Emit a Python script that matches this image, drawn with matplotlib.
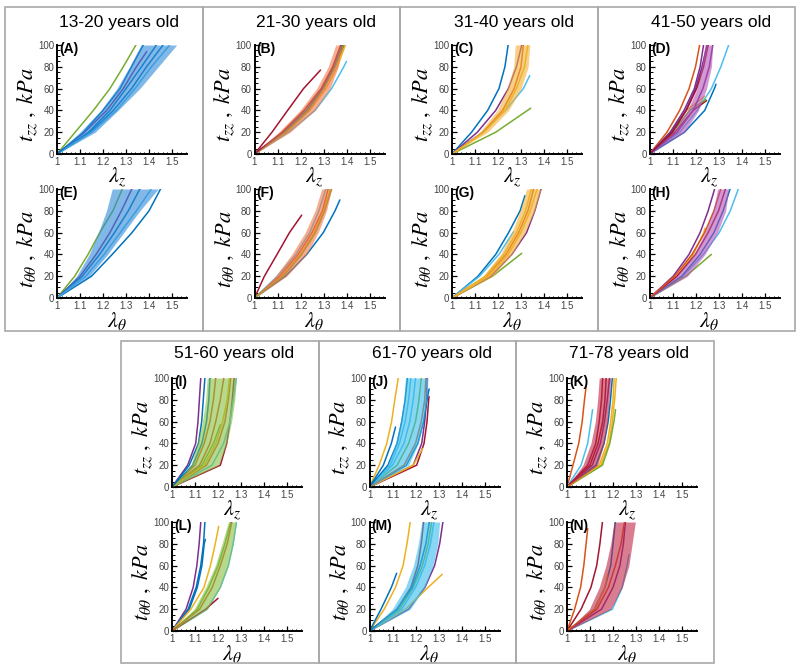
import matplotlib
matplotlib.use("Agg")
import matplotlib.pyplot as plt
from matplotlib.patches import Rectangle
from matplotlib.ticker import MultipleLocator

plt.rcParams["font.family"] = ["Liberation Sans", "DejaVu Sans"]
plt.rcParams["mathtext.fontset"] = "stix"

W_PX, H_PX = 800, 670

BLUE = "#0072BD"
ORANGE = "#D95319"
YELLOW = "#EDB120"
PURPLE = "#7E2F8E"
GREEN = "#77AC30"
CYAN = "#4DBEEE"
CRIMSON = "#A2142F"

# stress levels (kPa) at which the stretch values below were read
CURVE_T = [0, 20, 40, 60, 80, 100]

TOP_AGES = ["13-20 years old", "21-30 years old", "31-40 years old", "41-50 years old"]
BOTTOM_AGES = ["51-60 years old", "61-70 years old", "71-78 years old"]

# ---- 13-20 ----
A_BAND_LO = [1, 1.10, 1.19, 1.26, 1.315, 1.365]
A_BAND_HI = [1, 1.166, 1.265, 1.36, 1.44, 1.52]
A_CURVES = [
    (GREEN, [1, 1.079, 1.158, 1.23, 1.288, 1.343]),
    (PURPLE, [1, 1.12, 1.216, 1.288, 1.345, 1.39], 94),
    (BLUE, [1, 1.137, 1.23, 1.30, 1.367, 1.432]),
    (BLUE, [1, 1.144, 1.245, 1.324, 1.389, 1.461]),
    (CYAN, [1, 1.151, 1.259, 1.339, 1.41, 1.49]),
    (BLUE, [1, 1.115, 1.20, 1.274, 1.324, 1.375]),
]
E_BAND_LO = [1, 1.085, 1.14, 1.18, 1.215, 1.24]
E_BAND_HI = [1, 1.14, 1.22, 1.29, 1.36, 1.44]
E_CURVES = [
    (GREEN, [1, 1.077, 1.135, 1.186, 1.243, 1.284]),
    (BLUE, [1, 1.15, 1.24, 1.326, 1.40, 1.45]),
    (PURPLE, [1, 1.10, 1.17, 1.23, 1.28, 1.325]),
    (BLUE, [1, 1.11, 1.185, 1.25, 1.31, 1.36]),
    (CYAN, [1, 1.125, 1.205, 1.275, 1.345, 1.41]),
]

# ---- 21-30 ----
B_BAND_LO = [1, 1.105, 1.198, 1.27, 1.32, 1.353]
B_BAND_HI = [1, 1.155, 1.263, 1.328, 1.364, 1.378]
B_CURVES = [
    (CRIMSON, [1, 1.076, 1.144, 1.213, 1.287], 77),
    (CYAN, [1, 1.148, 1.263, 1.335, 1.388, 1.40], 85),
    (ORANGE, [1, 1.13, 1.23, 1.30, 1.35, 1.39]),
    (YELLOW, [1, 1.14, 1.24, 1.31, 1.36, 1.395]),
    (GREEN, [1, 1.135, 1.235, 1.30, 1.35, 1.385]),
    (BLUE, [1, 1.125, 1.225, 1.295, 1.345, 1.38]),
    (CRIMSON, [1, 1.12, 1.215, 1.29, 1.34, 1.375]),
]
F_BAND_LO = [1, 1.09, 1.162, 1.22, 1.263, 1.292]
F_BAND_HI = [1, 1.14, 1.227, 1.277, 1.313, 1.335]
F_CURVES = [
    (CRIMSON, [1, 1.043, 1.098, 1.152, 1.205], 76),
    (BLUE, [1, 1.134, 1.227, 1.299, 1.35, 1.371], 90),
    (CYAN, [1, 1.10, 1.18, 1.24, 1.28, 1.31]),
    (ORANGE, [1, 1.11, 1.19, 1.25, 1.295, 1.32]),
    (YELLOW, [1, 1.12, 1.20, 1.26, 1.30, 1.33]),
    (GREEN, [1, 1.125, 1.205, 1.265, 1.305, 1.335]),
]

# ---- 31-40 ----
C_BAND_LO = [1, 1.12, 1.197, 1.24, 1.268, 1.275]
C_BAND_HI = [1, 1.155, 1.246, 1.30, 1.331, 1.338]
C_CURVES = [
    (BLUE, [1, 1.085, 1.155, 1.204, 1.23, 1.244]),
    (PURPLE, [1, 1.11, 1.19, 1.245, 1.28, 1.303]),
    (CYAN, [1, 1.134, 1.232, 1.31, 1.338], 72),
    (GREEN, [1, 1.19, 1.342], 42),
    (ORANGE, [1, 1.135, 1.22, 1.27, 1.30, 1.31]),
    (YELLOW, [1, 1.14, 1.23, 1.28, 1.315, 1.33]),
]
G_BAND_LO = [1, 1.134, 1.211, 1.26, 1.296, 1.324]
G_BAND_HI = [1, 1.176, 1.26, 1.317, 1.359, 1.387]
G_CURVES = [
    (BLUE, [1, 1.113, 1.19, 1.246, 1.296, 1.317], 94),
    (CYAN, [1, 1.12, 1.204, 1.268], 61),
    (GREEN, [1, 1.176, 1.303], 41),
    (PURPLE, [1, 1.169, 1.26, 1.324, 1.36, 1.387]),
    (ORANGE, [1, 1.15, 1.235, 1.29, 1.33, 1.355]),
    (YELLOW, [1, 1.145, 1.225, 1.28, 1.32, 1.345]),
    (YELLOW, [1, 1.16, 1.245, 1.30, 1.34, 1.37]),
]

# ---- 41-50 ----
D_BAND_LO = [1, 1.103, 1.165, 1.207, 1.227, 1.241]
D_BAND_HI = [1, 1.152, 1.213, 1.248, 1.269, 1.275]
D_CURVES = [
    (ORANGE, [1, 1.076, 1.131, 1.172, 1.20, 1.218]),
    (CYAN, [1, 1.131, 1.207, 1.269, 1.31, 1.344]),
    (BLUE, [1, 1.152, 1.24, 1.282, 1.289], 64),
    (CRIMSON, [1, 1.11, 1.19, 1.248], 49),
    (YELLOW, [1, 1.09, 1.16, 1.24], 53),
    (GREEN, [1, 1.10, 1.175, 1.245], 50),
    (PURPLE, [1, 1.09, 1.15, 1.195, 1.22, 1.235]),
    (PURPLE, [1, 1.095, 1.158, 1.20, 1.228, 1.25]),
    (PURPLE, [1, 1.12, 1.19, 1.232, 1.26, 1.275]),
    (CRIMSON, [1, 1.10, 1.16, 1.205, 1.235, 1.255]),
]
H_BAND_LO = [1, 1.117, 1.193, 1.241, 1.276, 1.296]
H_BAND_HI = [1, 1.165, 1.241, 1.296, 1.331, 1.344]
H_CURVES = [
    (PURPLE, [1, 1.103, 1.172, 1.22, 1.255, 1.283]),
    (CYAN, [1, 1.145, 1.234, 1.303, 1.351, 1.386]),
    (GREEN, [1, 1.158, 1.269], 40),
    (YELLOW, [1, 1.12, 1.19, 1.236, 1.241], 64),
    (BLUE, [1, 1.14, 1.22, 1.28, 1.32, 1.35]),
    (CRIMSON, [1, 1.12, 1.20, 1.255, 1.30, 1.33]),
    (ORANGE, [1, 1.11, 1.185, 1.24, 1.28, 1.31]),
]

# ---- 51-60 ----
I_BAND_LO = [1, 1.082, 1.11, 1.132, 1.146, 1.153]
I_BAND_HI = [1, 1.203, 1.238, 1.259, 1.273, 1.28]
I_CURVES = [
    (PURPLE, [1, 1.068, 1.103, 1.113, 1.119, 1.125]),
    (BLUE, [1, 1.075, 1.115, 1.129, 1.136, 1.143]),
    (CRIMSON, [1, 1.21, 1.238, 1.252, 1.262, 1.27]),
    (CYAN, [1, 1.174, 1.224, 1.252, 1.266, 1.28]),
    (GREEN, [1, 1.13, 1.18, 1.21], 57),
    (ORANGE, [1, 1.12, 1.165, 1.19, 1.21, 1.225]),
    (ORANGE, [1, 1.10, 1.14, 1.165, 1.18, 1.19]),
    (ORANGE, [1, 1.15, 1.20, 1.23, 1.245, 1.255]),
    (YELLOW, [1, 1.14, 1.19, 1.22, 1.24, 1.25]),
    (BLUE, [1, 1.09, 1.13, 1.15, 1.16, 1.165]),
]
L_BAND_LO = [1, 1.096, 1.146, 1.188, 1.217, 1.245]
L_BAND_HI = [1, 1.153, 1.21, 1.245, 1.266, 1.28]
L_CURVES = [
    (PURPLE, [1, 1.061, 1.092, 1.108, 1.118, 1.125]),
    (BLUE, [1, 1.07, 1.105, 1.125, 1.137, 1.143]),
    (BLUE, [1, 1.075, 1.11, 1.13, 1.14, 1.145], 84),
    (YELLOW, [1, 1.082, 1.139, 1.167, 1.188, 1.203], 96),
    (CYAN, [1, 1.153, 1.21, 1.245, 1.266, 1.28]),
    (CRIMSON, [1, 1.146, 1.20], 30),
    (GREEN, [1, 1.11, 1.16, 1.20, 1.23, 1.255]),
    (ORANGE, [1, 1.12, 1.175, 1.21, 1.24, 1.26]),
]

# ---- 61-70 ----
J_BAND_LO = [1, 1.078, 1.113, 1.135, 1.149, 1.156]
J_BAND_HI = [1, 1.17, 1.212, 1.234, 1.248, 1.255]
J_CURVES = [
    (YELLOW, [1, 1.042, 1.075, 1.096, 1.11, 1.125]),
    (BLUE, [1, 1.06, 1.095, 1.113], 55),
    (PURPLE, [1, 1.19, 1.227, 1.24, 1.248, 1.25]),
    (CRIMSON, [1, 1.205, 1.237, 1.25, 1.257, 1.259], 83),
    (BLUE, [1, 1.16, 1.21, 1.235, 1.25, 1.259], 90),
    (YELLOW, [1, 1.19, 1.23], 35),
    (GREEN, [1, 1.12, 1.17, 1.20, 1.215, 1.225]),
    (CYAN, [1, 1.09, 1.13, 1.155, 1.17, 1.18]),
    (CYAN, [1, 1.10, 1.15, 1.175, 1.19, 1.20]),
    (BLUE, [1, 1.08, 1.12, 1.14, 1.155, 1.165]),
    (ORANGE, [1, 1.15, 1.20, 1.225, 1.24, 1.245]),
]
M_BAND_LO = [1, 1.099, 1.156, 1.191, 1.212, 1.227]
M_BAND_HI = [1, 1.177, 1.241, 1.276, 1.297, 1.305]
M_CURVES = [
    (YELLOW, [1, 1.064, 1.113, 1.146, 1.163, 1.177]),
    (BLUE, [1, 1.05, 1.095, 1.118], 53),
    (PURPLE, [1, 1.17, 1.241, 1.283, 1.305, 1.319]),
    (YELLOW, [1, 1.156, 1.255, 1.316], 52),
    (CRIMSON, [1, 1.12, 1.18, 1.21, 1.225, 1.235]),
    (CYAN, [1, 1.14, 1.20, 1.24, 1.265, 1.28]),
    (GREEN, [1, 1.13, 1.19, 1.23, 1.255, 1.27]),
    (BLUE, [1, 1.12, 1.185, 1.22, 1.245, 1.26]),
]

# ---- 71-78 ----
K_BAND_LO = [1, 1.069, 1.104, 1.123, 1.133, 1.14]
K_BAND_HI = [1, 1.133, 1.161, 1.176, 1.183, 1.19]
K_CURVES = [
    (ORANGE, [1, 1.026, 1.051, 1.066, 1.076, 1.083], 92),
    (CYAN, [1, 1.061, 1.09, 1.104, 1.111], 71),
    (YELLOW, [1, 1.147, 1.183, 1.197, 1.207, 1.214]),
    (GREEN, [1, 1.154, 1.186, 1.204, 1.211], 71),
    (BLUE, [1, 1.126, 1.161, 1.179, 1.189, 1.197]),
    (PURPLE, [1, 1.11, 1.145, 1.163, 1.175, 1.185]),
    (CRIMSON, [1, 1.09, 1.125, 1.14, 1.15, 1.155]),
    (CRIMSON, [1, 1.10, 1.135, 1.155, 1.165, 1.17]),
    (YELLOW, [1, 1.14, 1.175, 1.19, 1.20, 1.205]),
]
N_BAND_LO = [1, 1.097, 1.14, 1.169, 1.19, 1.204]
N_BAND_HI = [1, 1.19, 1.24, 1.269, 1.283, 1.297]
N_CURVES = [
    (ORANGE, [1, 1.033, 1.059, 1.073, 1.083, 1.09], 94),
    (CRIMSON, [1, 1.061, 1.104, 1.129, 1.143, 1.154]),
    (CYAN, [1, 1.197, 1.24, 1.261, 1.269], 70),
    (PURPLE, [1, 1.15, 1.20, 1.23, 1.245, 1.254]),
    (BLUE, [1, 1.12, 1.165, 1.19, 1.20, 1.21]),
    (YELLOW, [1, 1.12, 1.165, 1.176], 52),
    (ORANGE, [1, 1.13, 1.18, 1.21, 1.235, 1.25]),
]

BAND_COLORS = ["#2F8AD8", "#F07848", "#F2B134", "#B455B8", "#86C043", "#38BDEB", "#C02848"]

# (letter, band lo, band hi, curves) per column, upper = zz, lower = theta-theta
TOP_PANELS = [
    (("A", A_BAND_LO, A_BAND_HI, A_CURVES), ("E", E_BAND_LO, E_BAND_HI, E_CURVES)),
    (("B", B_BAND_LO, B_BAND_HI, B_CURVES), ("F", F_BAND_LO, F_BAND_HI, F_CURVES)),
    (("C", C_BAND_LO, C_BAND_HI, C_CURVES), ("G", G_BAND_LO, G_BAND_HI, G_CURVES)),
    (("D", D_BAND_LO, D_BAND_HI, D_CURVES), ("H", H_BAND_LO, H_BAND_HI, H_CURVES)),
]
BOTTOM_PANELS = [
    (("I", I_BAND_LO, I_BAND_HI, I_CURVES), ("L", L_BAND_LO, L_BAND_HI, L_CURVES)),
    (("J", J_BAND_LO, J_BAND_HI, J_CURVES), ("M", M_BAND_LO, M_BAND_HI, M_CURVES)),
    (("K", K_BAND_LO, K_BAND_HI, K_CURVES), ("N", N_BAND_LO, N_BAND_HI, N_CURVES)),
]


def px_axes(fig, left, top, w=130, h=109):
    return fig.add_axes([left / W_PX, 1 - (top + h) / H_PX, w / W_PX, h / H_PX])


def px_box(fig, x0, y0, x1, y1):
    fig.patches.append(Rectangle((x0 / W_PX, 1 - y1 / H_PX), (x1 - x0) / W_PX,
                                 (y1 - y0) / H_PX, transform=fig.transFigure,
                                 facecolor="none", edgecolor="#A8A8A8", linewidth=1.2))


def panel(ax, letter, lo, hi, curves, band_color, kind):
    for c in curves:
        color, lams = c[0], c[1]
        t_end = c[2] if len(c) > 2 else 100
        ts = [t for t in CURVE_T if t < t_end][:len(lams) - 1] + [t_end]
        ax.plot(lams, ts, color=color, lw=1.1, solid_capstyle="round")
    ax.fill_betweenx(CURVE_T, lo, hi, color=band_color, alpha=0.6, lw=0, zorder=3)

    ax.set_xlim(1, 1.565)
    ax.set_ylim(0, 100)
    for s in ("top", "right"):
        ax.spines[s].set_visible(False)
    for s in ("left", "bottom"):
        ax.spines[s].set_linewidth(1.4)
    ax.set_xticks([1, 1.1, 1.2, 1.3, 1.4, 1.5])
    ax.set_xticklabels(["1", "1.1", "1.2", "1.3", "1.4", "1.5"])
    ax.set_yticks([0, 20, 40, 60, 80, 100])
    ax.xaxis.set_minor_locator(MultipleLocator(0.02))
    ax.yaxis.set_minor_locator(MultipleLocator(5))
    ax.tick_params(which="major", direction="in", length=3.5, width=0.9,
                   labelsize=7, labelcolor="#444444", pad=2)
    ax.tick_params(which="minor", direction="in", length=1.8, width=0.7)
    ax.set_facecolor("none")

    ax.text(0.015, 1.025, f"({letter})", transform=ax.transAxes, fontsize=10,
            fontweight="bold", ha="left", va="top", zorder=5)
    if kind == "zz":
        ylab, xlab = r"$t_{zz}\ ,\ kPa$", r"$\lambda_z$"
    else:
        ylab, xlab = r"$t_{\theta\theta}\ ,\ kPa$", r"$\lambda_\theta$"
    ax.text(-0.23, 0.45, ylab, transform=ax.transAxes, rotation=90, fontsize=16,
            ha="center", va="center")
    ax.text(0.46, -0.215, xlab, transform=ax.transAxes, fontsize=16,
            ha="center", va="center")


fig = plt.figure(figsize=(W_PX / 100, H_PX / 100), dpi=100)

for i, (upper, lower) in enumerate(TOP_PANELS):
    bx = 5 + 197.5 * i
    px_box(fig, bx, 7, bx + 197.5, 331)
    left = bx + 52
    fig.text((left + 62) / W_PX, 1 - 22 / H_PX, TOP_AGES[i], fontsize=12.5,
             ha="center", va="center")
    panel(px_axes(fig, left, 45), *upper, BAND_COLORS[i], "zz")
    panel(px_axes(fig, left, 189), *lower, BAND_COLORS[i], "tt")

for j, (upper, lower) in enumerate(BOTTOM_PANELS):
    bx = 121 + 197.5 * j
    px_box(fig, bx, 341, bx + 197.5, 663)
    left = bx + 51
    fig.text((left + 62) / W_PX, 1 - 353 / H_PX, BOTTOM_AGES[j], fontsize=12.5,
             ha="center", va="center")
    panel(px_axes(fig, left, 378), *upper, BAND_COLORS[4 + j], "zz")
    panel(px_axes(fig, left, 522), *lower, BAND_COLORS[4 + j], "tt")

fig.savefig("out.png", dpi=100)
